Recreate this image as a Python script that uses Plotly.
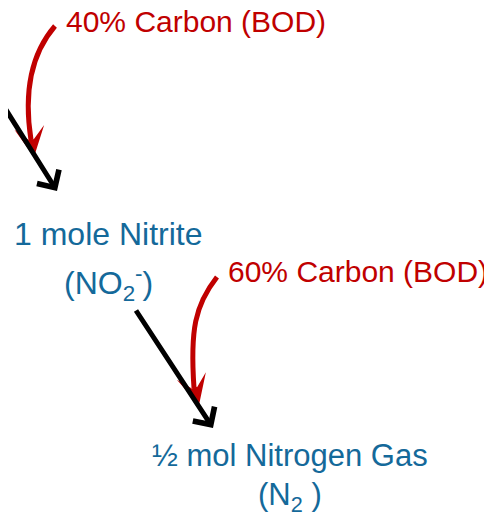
import plotly.graph_objects as go

# diagram content (pixel-style coordinates, y grows downward)
node_text = ["1 mole Nitrite", "(NO<sub>2</sub><sup>-</sup>)",
             "½ mol Nitrogen Gas", "(N<sub>2</sub> )"]
node_x = [108, 108, 290, 290]
node_y = [234, 283, 455, 497]
node_size = [32, 32, 31, 31]

carbon_text = ["40% Carbon (BOD)", "60% Carbon (BOD)"]
carbon_x = [196, 358]
carbon_y = [21, 271]

# black process arrows: tail -> tip
flow_tail = [(-2, 97), (135, 309)]
flow_tip = [(57, 191), (213, 428)]

# red carbon curves (cubic path) and their heads
curve_paths = ["M 55,26 C 30,55 24,95 31,140",
               "M 217,277 C 195,305 190,330 194,388"]
curve_head_tail = [(31, 138), (194, 386)]
curve_head_tip = [(34, 157), (199, 405)]

RED = "#C00000"
BLUE = "#14699A"
FONT = "Liberation Sans, Arial, sans-serif"

# page body has an 8px margin, so the figure covers window pixels 8..492 / 8..521
fig = go.Figure()
fig.add_trace(go.Scatter(x=[8, 492], y=[8, 521], mode="markers",
                         marker=dict(opacity=0), hoverinfo="skip", showlegend=False))

for p in curve_paths:
    fig.add_shape(type="path", path=p, xref="x", yref="y",
                  line=dict(color=RED, width=5))

anns = []
for (tx, ty), (hx, hy) in zip(curve_head_tail, curve_head_tip):
    anns.append(dict(x=hx, y=hy, ax=tx, ay=ty, xref="x", yref="y", axref="x", ayref="y",
                     text="", showarrow=True, arrowhead=3, arrowsize=1,
                     arrowwidth=5, arrowcolor=RED, standoff=0))
for (tx, ty), (hx, hy) in zip(flow_tail, flow_tip):
    anns.append(dict(x=hx, y=hy, ax=tx, ay=ty, xref="x", yref="y", axref="x", ayref="y",
                     text="", showarrow=True, arrowhead=4, arrowsize=1,
                     arrowwidth=5, arrowcolor="black", standoff=0))
for t, x, y in zip(carbon_text, carbon_x, carbon_y):
    anns.append(dict(x=x, y=y, xref="x", yref="y", text=t, showarrow=False,
                     xanchor="center", yanchor="middle",
                     font=dict(family=FONT, size=30, color=RED)))
for t, x, y, s in zip(node_text, node_x, node_y, node_size):
    anns.append(dict(x=x, y=y, xref="x", yref="y", text=t, showarrow=False,
                     xanchor="center", yanchor="middle",
                     font=dict(family=FONT, size=s, color=BLUE)))

fig.update_layout(
    width=484, height=513,
    margin=dict(l=0, r=0, t=0, b=0),
    paper_bgcolor="white", plot_bgcolor="white",
    xaxis=dict(range=[8, 492], visible=False, fixedrange=True),
    yaxis=dict(range=[521, 8], visible=False, fixedrange=True),
    annotations=anns,
)

fig.write_html("out.html")
